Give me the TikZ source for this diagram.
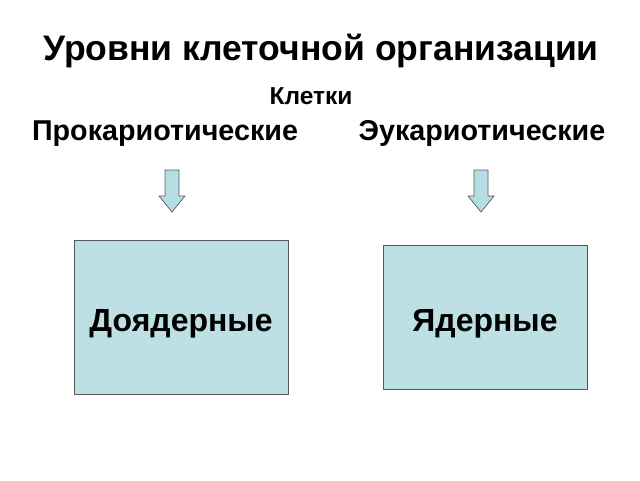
\documentclass[tikz,border=0pt]{standalone}
\usepackage{fontspec}
\setmainfont{Liberation Sans}
\definecolor{boxfill}{RGB}{189,224,228}
\definecolor{arrfill}{RGB}{180,222,228}
\begin{document}
\begin{tikzpicture}[x=1pt,y=-1pt,
 lbl/.style={font=\bfseries, inner sep=0pt, anchor=base},
 box/.style={draw=gray!70!black, fill=boxfill, line width=0.8pt},
 barrow/.style={draw=gray!70!black, fill=arrfill, line width=0.7pt}]
\useasboundingbox (0,0) rectangle (640,480);
\node[lbl, font=\bfseries\fontsize{35.5}{40}\selectfont] (title) at (321,60) {Уровни клеточной организации};
\node[lbl, font=\bfseries\fontsize{24.5}{28}\selectfont] (cells) at (311,104) {Клетки};
\node[lbl, font=\bfseries\fontsize{28.7}{32}\selectfont] (pro) at (165,140) {Прокариотические};
\node[lbl, font=\bfseries\fontsize{28.7}{32}\selectfont] (euk) at (482,140) {Эукариотические};
\foreach \cx in {172,481}{
 \draw[barrow] (\cx-7,170) -- (\cx+7,170) -- (\cx+7,196) -- (\cx+13,196) -- (\cx,212) -- (\cx-13,196) -- (\cx-7,196) -- cycle;
}
\draw[box] (74,240) rectangle (288,394);
\draw[box] (383,245) rectangle (587,389);
\node[lbl, font=\bfseries\fontsize{32}{36}\selectfont] (pre) at (181,331) {Доядерные};
\node[lbl, font=\bfseries\fontsize{32}{36}\selectfont] (nuc) at (485,331) {Ядерные};
\end{tikzpicture}
\end{document}
